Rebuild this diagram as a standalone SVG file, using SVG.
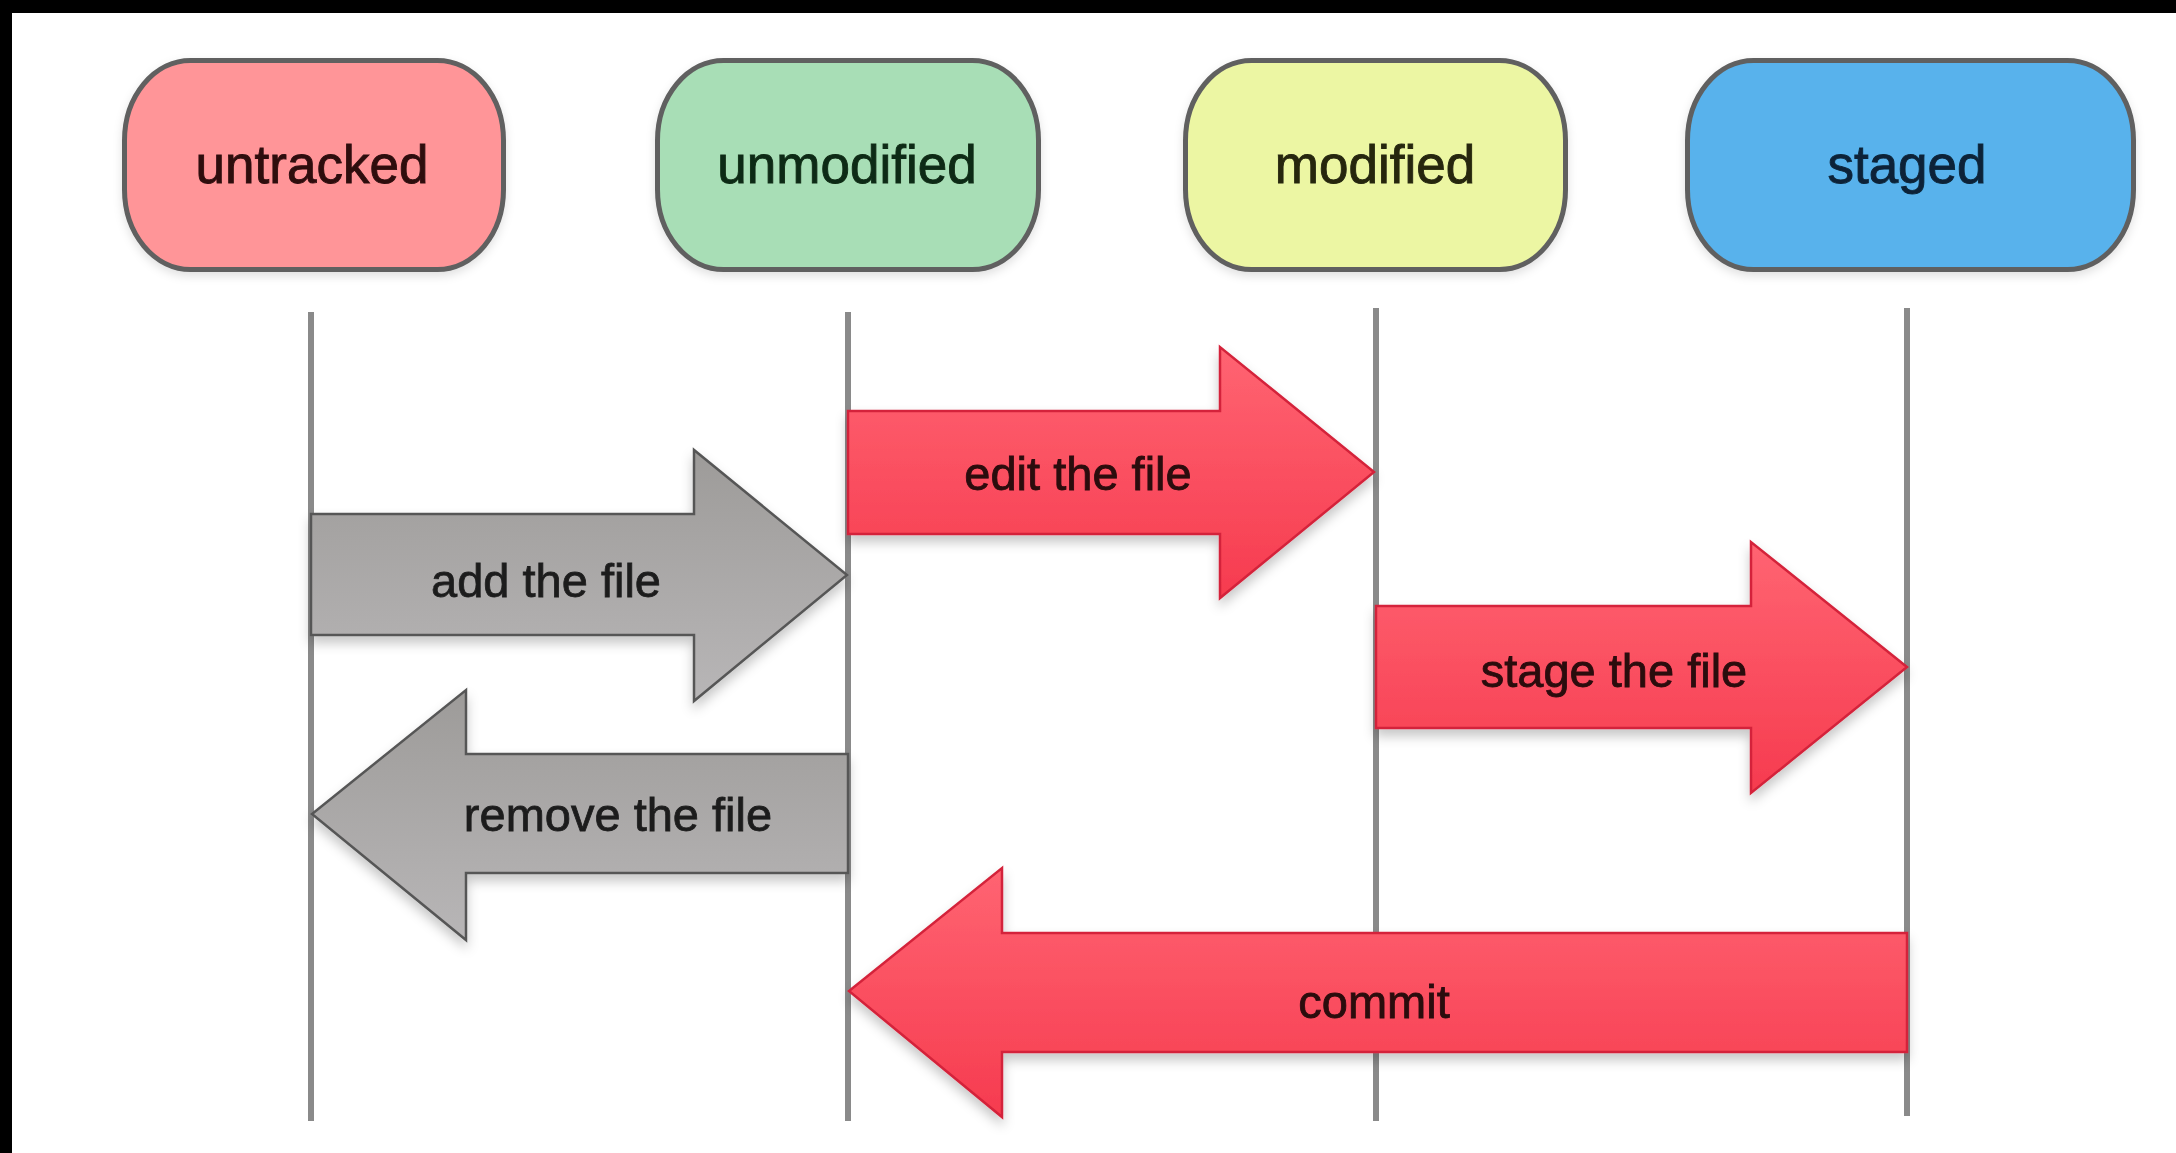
<svg xmlns="http://www.w3.org/2000/svg" width="2176" height="1153" viewBox="0 0 2176 1153">
<style>
.node{stroke:#606060;stroke-width:5}
.ntext{font-family:"Liberation Sans",Arial,sans-serif;font-size:53px;text-anchor:middle;stroke-width:0.9}
.life{stroke:#8a8a8a;stroke-width:6;fill:none}
.red{fill:url(#gRed);stroke:#d4243a;stroke-width:2.5;stroke-linejoin:miter}
.grey{fill:url(#gGrey);stroke:#575757;stroke-width:2.5;stroke-linejoin:miter}
.atext{font-family:"Liberation Sans",Arial,sans-serif;font-size:47px;text-anchor:middle;stroke-width:0.8}
</style>
<defs>
<linearGradient id="gRed" x1="0" y1="0" x2="0" y2="1">
<stop offset="0" stop-color="#ff6472"/>
<stop offset="1" stop-color="#f63b4f"/>
</linearGradient>
<linearGradient id="gGrey" x1="0" y1="0" x2="0" y2="1">
<stop offset="0" stop-color="#9d9b99"/>
<stop offset="1" stop-color="#b8b6b7"/>
</linearGradient>
<filter id="shadow" x="-10%" y="-20%" width="120%" height="150%">
<feDropShadow dx="0" dy="7" stdDeviation="6" flood-color="#000" flood-opacity="0.22"/>
</filter>
<filter id="nshadow" x="-10%" y="-20%" width="120%" height="150%">
<feDropShadow dx="0" dy="4" stdDeviation="5" flood-color="#000" flood-opacity="0.12"/>
</filter>
</defs>
<rect x="0" y="0" width="2176" height="1153" fill="#ffffff"/>
<rect x="0" y="0" width="2176" height="13" fill="#000"/>
<rect x="0" y="0" width="12" height="1153" fill="#000"/>

<g id="node-untracked" filter="url(#nshadow)">
<rect class="node" x="124.5" y="60.5" width="379" height="209" rx="66" ry="80" fill="#ff9598"/>
<text class="ntext" x="312" y="183" fill="#2e0c0e" stroke="#2e0c0e">untracked</text>
</g>
<g id="node-unmodified" filter="url(#nshadow)">
<rect class="node" x="657.5" y="60.5" width="381" height="209" rx="66" ry="80" fill="#a8deb6"/>
<text class="ntext" x="847" y="183" fill="#0e2a14" stroke="#0e2a14">unmodified</text>
</g>
<g id="node-modified" filter="url(#nshadow)">
<rect class="node" x="1185.5" y="60.5" width="380" height="209" rx="66" ry="80" fill="#ecf6a3"/>
<text class="ntext" x="1375" y="183" fill="#262810" stroke="#262810">modified</text>
</g>
<g id="node-staged" filter="url(#nshadow)">
<rect class="node" x="1687.5" y="60.5" width="446" height="209" rx="66" ry="80" fill="#58b2ec"/>
<text class="ntext" x="1907" y="183" fill="#0c2438" stroke="#0c2438">staged</text>
</g>

<g id="lifelines">
<line class="life" x1="311" y1="312" x2="311" y2="1121"/>
<line class="life" x1="848" y1="312" x2="848" y2="1121"/>
<line class="life" x1="1376" y1="308" x2="1376" y2="1121"/>
<line class="life" x1="1907" y1="308" x2="1907" y2="1116"/>
</g>

<g id="connectors">
<g id="arrow-add" filter="url(#shadow)">
<path class="grey" d="M311 514 L694 514 L694 450 L847 575 L694 701 L694 635 L311 635 Z"/>
<text class="atext" x="546" y="597" fill="#1e1e1e" stroke="#1e1e1e">add the file</text>
</g>
<g id="arrow-edit" filter="url(#shadow)">
<path class="red" d="M848 411 L1220 411 L1220 347 L1374 472 L1220 598 L1220 534 L848 534 Z"/>
<text class="atext" x="1078" y="490" fill="#2a080c" stroke="#2a080c">edit the file</text>
</g>
<g id="arrow-stage" filter="url(#shadow)">
<path class="red" d="M1376 606 L1751 606 L1751 542 L1907 667 L1751 793 L1751 728 L1376 728 Z"/>
<text class="atext" x="1614" y="687" fill="#2a080c" stroke="#2a080c">stage the file</text>
</g>
<g id="arrow-remove" filter="url(#shadow)">
<path class="grey" d="M848 754 L466 754 L466 690 L312 814 L466 940 L466 873 L848 873 Z"/>
<text class="atext" x="618" y="831" fill="#1e1e1e" stroke="#1e1e1e">remove the file</text>
</g>
<g id="arrow-commit" filter="url(#shadow)">
<path class="red" d="M1907 933 L1002 933 L1002 868 L849 991 L1002 1117 L1002 1052 L1907 1052 Z"/>
<text class="atext" x="1374" y="1018" fill="#2a080c" stroke="#2a080c">commit</text>
</g>
</g>
</svg>
